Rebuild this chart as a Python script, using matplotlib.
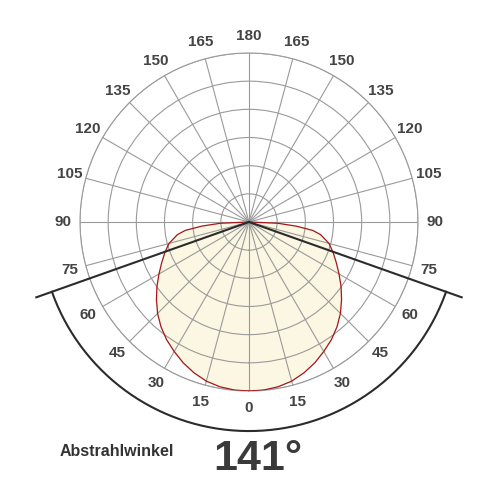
import numpy as np
import matplotlib
matplotlib.use("Agg")
import matplotlib.pyplot as plt

# Light distribution (one half, symmetric), angle in degrees from nadir, relative intensity
angles = [0, 5, 10, 15, 20, 25, 30, 35, 40, 45, 50, 55, 60, 65, 70, 75, 80, 82.5, 85, 87.5, 90]
intensity = [1.00, 0.998, 0.99, 0.975, 0.95, 0.92, 0.885, 0.85, 0.81, 0.765, 0.715, 0.665,
             0.615, 0.57, 0.53, 0.49, 0.43, 0.38, 0.28, 0.17, 0.0]

beam_angle = 141
tick_angles = list(range(0, 360, 15))
tick_labels = [str(a if a <= 180 else 360 - a) for a in tick_angles]
n_rings = 6

plt.rcParams['font.family'] = ['Liberation Sans', 'DejaVu Sans']

fig = plt.figure(figsize=(5, 5), dpi=100)
ax = fig.add_axes([0.16, 0.218, 0.676, 0.676], projection='polar')
ax.set_theta_zero_location('S')
ax.set_theta_direction(1)
ax.set_ylim(0, 1)

# symmetric curve
ang = np.array(angles)
inten = np.array(intensity)
th = np.deg2rad(np.concatenate([-ang[::-1], ang[1:]]))
rr = np.concatenate([inten[::-1], inten[1:]])
ax.fill(th, rr, color='#fbf7e2', zorder=1)
ax.plot(th, rr, color='#a3171b', lw=0.9, zorder=4)

# grid
ax.set_xticks(np.deg2rad(tick_angles))
ax.set_xticklabels([])
ax.set_yticks(np.linspace(0, 1, n_rings + 1)[1:])
ax.set_yticklabels([])
ax.grid(True, color='#9a9a9a', lw=0.8, zorder=2)
ax.spines['polar'].set_color('#9a9a9a')
ax.spines['polar'].set_linewidth(0.8)
ax.tick_params(length=0)
for gl in ax.get_xgridlines() + ax.get_ygridlines():
    gl.set_zorder(2)

# angle labels
for a, lab in zip(tick_angles, tick_labels):
    ax.text(np.deg2rad(a), 1.10, lab, ha='center', va='center', fontsize=11,
            fontweight='bold', color='#444444', clip_on=False)

# beam angle lines and arc
half = np.deg2rad(beam_angle / 2)
for s in (-1, 1):
    ax.plot([0, s * half], [0, 1.335], color='#2b2b2b', lw=1.5, clip_on=False, zorder=5)
arc_t = np.linspace(-half, half, 200)
ax.plot(arc_t, np.full_like(arc_t, 1.237), color='#2b2b2b', lw=1.5, clip_on=False, zorder=5)

fig.text(0.234, 0.098, 'Abstrahlwinkel', fontsize=11.5, fontweight='bold',
         color='#333333', ha='center', va='center')
fig.text(0.516, 0.083, f'{beam_angle}°', fontsize=31, fontweight='bold',
         color='#3a3a3a', ha='center', va='center')

fig.savefig('out.png', dpi=100)
